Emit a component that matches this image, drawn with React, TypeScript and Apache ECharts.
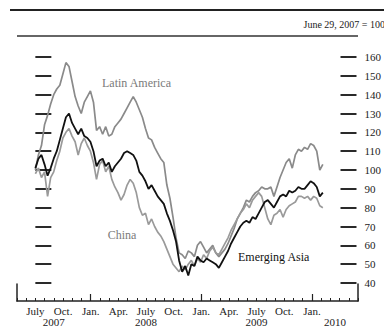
import React, { useEffect, useRef } from 'react';
import * as echarts from 'echarts';

// x grid: months since July 1, 2007, sampled on the 1st, 11th and 21st of each month
const firstSampleMonth = 0;
const samplesPerMonth = 3;

const latinAmerica = [
  100, 108, 113, 124, 129, 135, 140, 143, 145, 151, 157, 155,
  147, 139, 134, 130, 136, 139, 142, 136, 121, 123, 119, 123,
  118, 119, 123, 125, 127, 130, 133, 136, 139, 136, 132, 128,
  122, 117, 116, 112, 109, 106, 104, 92, 85, 75, 64, 56,
  55, 53, 57, 56, 54, 60, 62, 59, 56, 58, 60, 56,
  54, 56, 58, 61, 65, 69, 74, 77, 80, 84, 83, 86,
  88, 89, 91, 90, 90, 91, 86, 91, 96, 100, 104, 106,
  101, 108, 111, 110, 112, 111, 114, 113, 110, 100, 103,
];
const emergingAsia = [
  101, 106, 108, 103, 97, 101, 106, 110, 116, 122, 128, 130,
  125, 122, 119, 122, 118, 117, 115, 110, 102, 105, 106, 102,
  104, 99, 102, 104, 106, 109, 110, 109, 108, 105, 99, 97,
  94, 90, 92, 89, 86, 84, 82, 77, 73, 68, 62, 52,
  46, 49, 44, 50, 49, 54, 52, 51, 53, 52, 51, 50,
  48, 51, 54, 57, 61, 64, 67, 70, 72, 73, 72, 75,
  74, 77, 80, 83, 84, 82, 80, 83, 86, 87, 86, 89,
  88, 89, 91, 90, 90, 92, 94, 93, 91, 86, 88,
];
const china = [
  98, 101, 96, 99, 86, 96, 99, 105, 110, 117, 120, 122,
  118, 115, 108, 114, 117, 113, 110, 104, 95, 103, 105, 99,
  102, 95, 91, 88, 84, 87, 92, 95, 93, 88, 80, 76,
  77, 71, 74, 70, 67, 65, 62, 58, 54, 50, 48, 46,
  49, 47, 50, 52, 49, 53, 51, 55, 53, 57, 59, 56,
  55, 58, 61, 64, 68, 71, 74, 77, 79, 82, 80, 84,
  86, 88, 86, 80, 74, 71, 76, 77, 79, 75, 79, 81,
  82, 83, 86, 86, 85, 86, 84, 86, 85, 81, 80,
];

// axis: months since July 2007, from May 2007 to June 2010, in half-month slots
const axisMinMonth = -2;
const axisMaxMonth = 35;
const lastLabelMonth = 30;
const quarterLabels = ['July', 'Oct.', 'Jan.', 'Apr.'];
const yearLabels = ['2007', '2008', '2009', '2010'];
const yearLabelMonths = [2, 12, 24, 32.5];
const janMonths = [6, 18, 30];
const yMin = 40;
const yMax = 160;
const yInterval = 10;

const serif = '"Liberation Serif", "DejaVu Serif", serif';

const xs = latinAmerica.map((_, i) => firstSampleMonth + i / samplesPerMonth);
const slots: string[] = [];
for (let m = axisMinMonth * 2; m <= axisMaxMonth * 2; m++) slots.push(String(m / 2));
const slotMonth = (i: number) => axisMinMonth + i / 2;

function buildOption() {
  const mkSeries = (name: string, vals: number[], color: string, width: number) => ({
    name, type: 'line', xAxisIndex: 0, yAxisIndex: 0,
    data: vals.map((v, i) => [xs[i], v]),
    showSymbol: false, symbol: 'none', lineStyle: { color, width }, silent: true,
  });
  return {
    animation: false,
    backgroundColor: '#ffffff',
    grid: [
      { left: 17, right: 26, top: 57, height: 226 },
      { left: 17, right: 26, top: 284, height: 17 },
      { left: 17, right: 26, top: 284, height: 17 },
    ],
    xAxis: [
      { type: 'value', gridIndex: 0, min: axisMinMonth, max: axisMaxMonth, show: false },
      {
        type: 'category', gridIndex: 1, data: slots, boundaryGap: false,
        axisLine: { show: true, lineStyle: { color: '#222', width: 1.5 } },
        axisTick: { show: true, inside: true, length: 3, interval: (i: number) => i % 2 === 0, lineStyle: { color: '#222', width: 1 } },
        axisLabel: {
          show: true,
          interval: (i: number) => {
            const m = slotMonth(i);
            return Number.isInteger(m) && m >= 0 && m <= lastLabelMonth && m % 3 === 0;
          },
          formatter: (_v: string, i: number) => quarterLabels[((slotMonth(i) / 3) % 4 + 4) % 4],
          margin: 4, fontFamily: serif, fontSize: 11, color: '#222',
        },
        splitLine: { show: false },
      },
      {
        type: 'category', gridIndex: 2, data: slots, boundaryGap: false,
        axisLine: { show: false },
        axisTick: { show: true, inside: true, length: 7, interval: (i: number) => janMonths.includes(slotMonth(i)), lineStyle: { color: '#222', width: 1.2 } },
        axisLabel: {
          show: true,
          interval: (i: number) => yearLabelMonths.includes(slotMonth(i)),
          formatter: (_v: string, i: number) => yearLabels[yearLabelMonths.indexOf(slotMonth(i))] || '',
          margin: 15, fontFamily: serif, fontSize: 11, color: '#222',
        },
        splitLine: { show: false },
      },
    ],
    yAxis: [
      {
        type: 'value', gridIndex: 0, position: 'left', min: yMin, max: yMax, interval: yInterval,
        axisLine: { show: false },
        axisTick: { show: true, inside: true, length: 16, lineStyle: { color: '#2a2a2a', width: 2 } },
        axisLabel: { show: false },
        splitLine: { show: false },
      },
      {
        type: 'value', gridIndex: 0, position: 'right', min: yMin, max: yMax, interval: yInterval,
        axisLine: { show: false },
        axisTick: { show: true, inside: true, length: 16, lineStyle: { color: '#2a2a2a', width: 2 } },
        axisLabel: { show: true, margin: 8, fontFamily: serif, fontSize: 11, color: '#222' },
        splitLine: { show: false },
      },
      {
        type: 'value', gridIndex: 1, position: 'left', min: 0, max: 1,
        axisLine: { show: true, lineStyle: { color: '#222', width: 1.5 } },
        axisTick: { show: false }, axisLabel: { show: false }, splitLine: { show: false },
      },
      {
        type: 'value', gridIndex: 1, position: 'right', min: 0, max: 1,
        axisLine: { show: true, lineStyle: { color: '#222', width: 1.5 } },
        axisTick: { show: false }, axisLabel: { show: false }, splitLine: { show: false },
      },
      { type: 'value', gridIndex: 2, min: 0, max: 1, show: false },
    ],
    graphic: [
      { type: 'line', shape: { x1: 10, y1: 10, x2: 384, y2: 10 }, style: { stroke: '#222', lineWidth: 2 } },
      {
        type: 'text', x: 385, y: 24,
        style: { text: 'June 29, 2007 = 100', align: 'right', verticalAlign: 'middle', fontFamily: serif, fontSize: 10, fill: '#222' },
      },
      { type: 'line', shape: { x1: 17, y1: 36, x2: 358, y2: 36 }, style: { stroke: '#333', lineWidth: 1.5 } },
      { type: 'text', x: 102, y: 83, style: { text: 'Latin America', align: 'left', verticalAlign: 'middle', fontFamily: serif, fontSize: 12, fill: '#7a7a7a' } },
      { type: 'text', x: 122, y: 235, style: { text: 'China', align: 'center', verticalAlign: 'middle', fontFamily: serif, fontSize: 12, fill: '#7a7a7a' } },
      { type: 'text', x: 238, y: 257, style: { text: 'Emerging Asia', align: 'left', verticalAlign: 'middle', fontFamily: serif, fontSize: 12, fill: '#111' } },
    ],
    series: [
      mkSeries('Latin America', latinAmerica, '#8a8a8a', 1.7),
      mkSeries('China', china, '#9a9a9a', 1.7),
      mkSeries('Emerging Asia', emergingAsia, '#111111', 1.8),
    ],
  };
}

export default function App() {
  const ref = useRef<HTMLDivElement>(null);
  useEffect(() => {
    if (!ref.current) return;
    const chart = echarts.init(ref.current, undefined, { renderer: 'svg' });
    chart.setOption(buildOption() as any);
    return () => chart.dispose();
  }, []);
  return <div ref={ref} style={{ position: 'fixed', left: 0, top: 0, width: 384, height: 331, background: '#fff' }} />;
}
